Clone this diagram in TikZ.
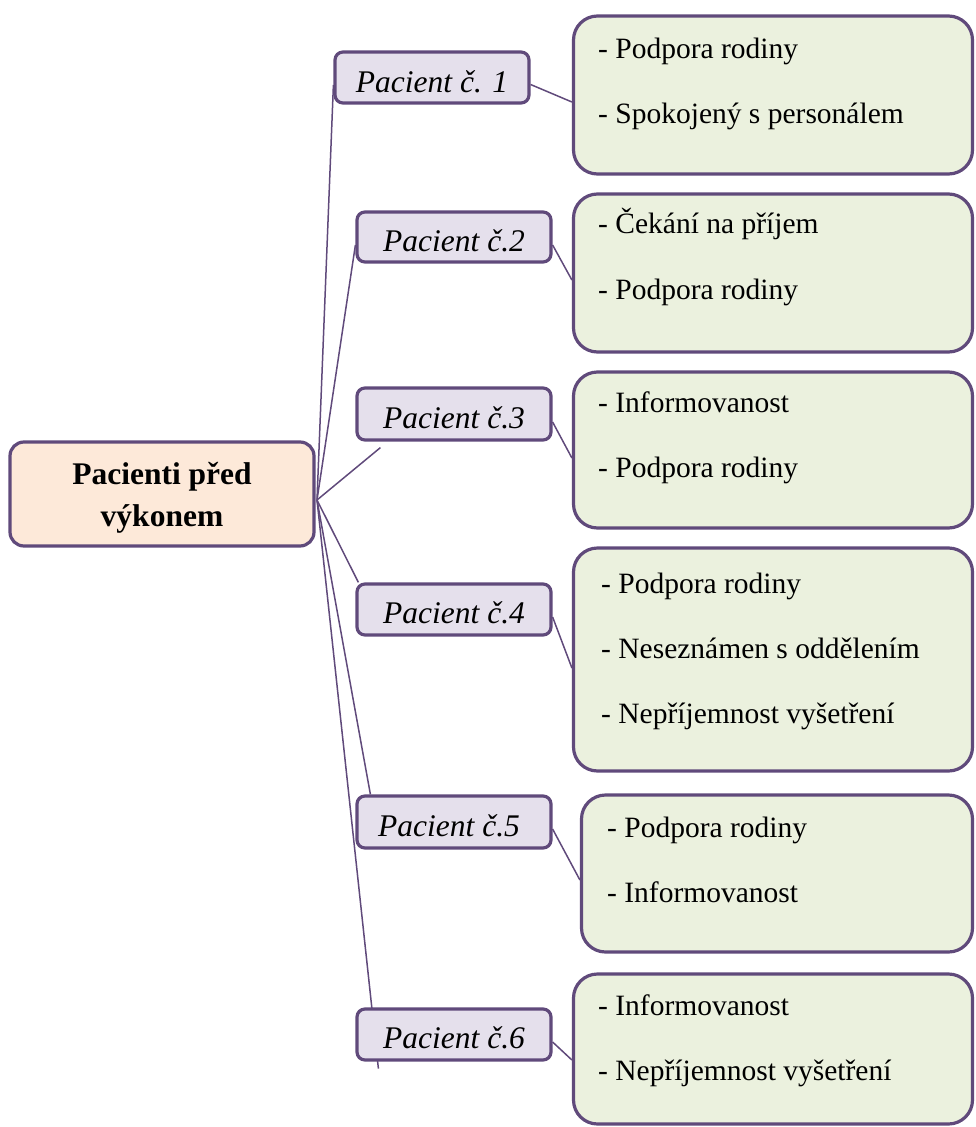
\documentclass[tikz,border=0pt]{standalone}
\usepackage{fontspec}
\setmainfont{Liberation Serif}
\usetikzlibrary{calc}
\pgfdeclarelayer{links}
\pgfsetlayers{links,main}
\definecolor{edge}{HTML}{604A7B}
\definecolor{lavender}{HTML}{E5E0EC}
\definecolor{peach}{HTML}{FDE9D9}
\definecolor{sage}{HTML}{EBF1DE}
\tikzset{
  box/.style={draw=edge, line width=3.2pt, inner sep=0pt, rectangle},
  rootbox/.style={box, fill=peach, rounded corners=14pt},
  patbox/.style={box, fill=lavender, rounded corners=8pt},
  notebox/.style={box, fill=sage, rounded corners=24pt},
  link/.style={draw=edge, line width=1.5pt},
  pattext/.style={anchor=base, inner sep=0pt, font=\fontsize{31.5}{36}\selectfont\itshape},
  roottext/.style={anchor=base, inner sep=0pt, font=\fontsize{31.5}{36}\selectfont\bfseries},
  notetext/.style={anchor=base west, inner sep=0pt, font=\fontsize{29.5}{35}\selectfont},
}
\begin{document}
\begin{tikzpicture}[x=1pt, y=-1pt]
\useasboundingbox (0,0) rectangle (976,1127);

% boxes
\path
  (162,494)    node[rootbox, minimum width=304pt, minimum height=104pt] (c) {}
  (432,77.5)   node[patbox, minimum width=194pt, minimum height=51pt] (p1) {}
  (454,237)    node[patbox, minimum width=194pt, minimum height=50pt] (p2) {}
  (454,414)    node[patbox, minimum width=194pt, minimum height=52pt] (p3) {}
  (454,609.5)  node[patbox, minimum width=194pt, minimum height=51pt] (p4) {}
  (454,822)    node[patbox, minimum width=194pt, minimum height=52pt] (p5) {}
  (454,1034.5) node[patbox, minimum width=194pt, minimum height=51pt] (p6) {}
  (773,95)     node[notebox, minimum width=399pt, minimum height=158pt] (g1) {}
  (773,273)    node[notebox, minimum width=399pt, minimum height=158pt] (g2) {}
  (773,450)    node[notebox, minimum width=399pt, minimum height=156pt] (g3) {}
  (773,659.5)  node[notebox, minimum width=399pt, minimum height=223pt] (g4) {}
  (777,873.5)  node[notebox, minimum width=391pt, minimum height=157pt] (g5) {}
  (773,1049)   node[notebox, minimum width=399pt, minimum height=150pt] (g6) {};

% connectors, kept underneath the boxes
\coordinate (hub) at (317,500);
\coordinate (end3) at ($(p3.south west)+(25,6)$);
\coordinate (end6) at ($(p6.south west)+(23,7)$);
\begin{pgfonlayer}{links}
  \draw[link] (hub) -- ($(p1.west)+(0,7.5)$);
  \draw[link] (hub) -- ($(p2.west)+(0,8)$);
  \draw[link] (hub) -- (end3);
  \draw[link] (hub) -- ($(p4.north west)+(3,0)$);
  \draw[link] (hub) -- ($(p5.north west)+(15,0)$);
  \draw[link] (hub) -- (end6);
  \draw[link] ($(p1.east)+(0,7)$)   -- ($(g1.west)+(0,7)$);
  \draw[link] ($(p2.east)+(0,8)$)   -- ($(g2.west)+(0,7)$);
  \draw[link] ($(p3.east)+(0,8)$)   -- ($(g3.west)+(0,8)$);
  \draw[link] ($(p4.east)+(0,7.5)$) -- ($(g4.west)+(0,8.5)$);
  \draw[link] ($(p5.east)+(0,7)$)   -- ($(g5.west)+(0,6.5)$);
  \draw[link] ($(p6.east)+(0,7.5)$) -- ($(g6.west)+(0,11)$);
\end{pgfonlayer}

% labels
\node[roottext] (c1) at (162,484) {Pacienti před};
\node[roottext] (c2) at (162,526) {výkonem};

\node[pattext] (l1) at (432,92)   {Pacient č. 1};
\node[pattext] (l2) at (454,251)  {Pacient č.2};
\node[pattext] (l3) at (454,428)  {Pacient č.3};
\node[pattext] (l4) at (454,623)  {Pacient č.4};
\node[pattext] (l5) at (449,836)  {Pacient č.5};
\node[pattext] (l6) at (454,1048) {Pacient č.6};

\node[notetext] (t11) at (598,58)   {- Podpora rodiny};
\node[notetext] (t12) at (598,123)  {- Spokojený s personálem};
\node[notetext] (t21) at (598,233)  {- Čekání na příjem};
\node[notetext] (t22) at (598,299)  {- Podpora rodiny};
\node[notetext] (t31) at (598,412)  {- Informovanost};
\node[notetext] (t32) at (598,477)  {- Podpora rodiny};
\node[notetext] (t41) at (601,593)  {- Podpora rodiny};
\node[notetext] (t42) at (601,658)  {- Neseznámen s oddělením};
\node[notetext] (t43) at (601,723)  {- Nepříjemnost vyšetření};
\node[notetext] (t51) at (607,837)  {- Podpora rodiny};
\node[notetext] (t52) at (607,902)  {- Informovanost};
\node[notetext] (t61) at (598,1015) {- Informovanost};
\node[notetext] (t62) at (598,1080) {- Nepříjemnost vyšetření};
\end{tikzpicture}
\end{document}
